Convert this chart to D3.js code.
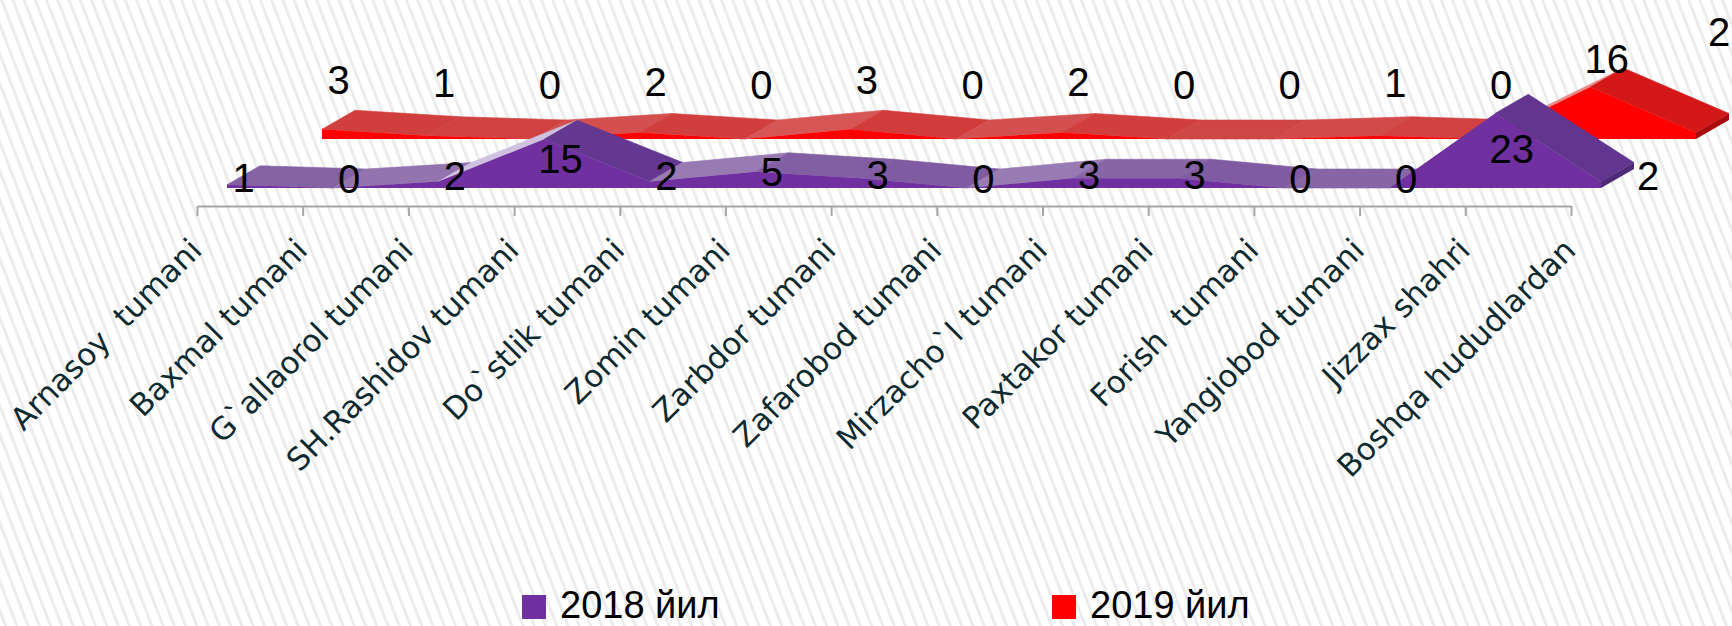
<!DOCTYPE html>
<html>
<head>
<meta charset="utf-8">
<script src="https://cdn.jsdelivr.net/npm/d3@7"></script>
<style>
  html, body { margin: 0; padding: 0; background: #fff; }
  svg { display: block; }
</style>
</head>
<body>
<svg id="chart"></svg>
<script>
const categories = [
  "Arnasoy  tumani", "Baxmal tumani", "G`allaorol tumani", "SH.Rashidov tumani",
  "Do`stlik tumani", "Zomin tumani", "Zarbdor tumani", "Zafarobod tumani",
  "Mirzacho`l tumani", "Paxtakor tumani", "Forish  tumani", "Yangiobod tumani",
  "Jizzax shahri", "Boshqa hududlardan"
];
const values2018 = [1, 0, 2, 15, 2, 5, 3, 0, 3, 3, 0, 0, 23, 2];
const values2019 = [3, 1, 0, 2, 0, 3, 0, 2, 0, 0, 1, 0, 16, 2];
const seriesNames = ["2018 йил", "2019 йил"];

const width = 1732, height = 626;
const axisY = 206;
const depth = { dx: 33, dy: -19 };   // thickness of each ribbon

const svg = d3.select("#chart")
  .attr("width", width)
  .attr("height", height);

// striped background
const defs = svg.append("defs");
const pat = defs.append("pattern")
  .attr("id", "stripes")
  .attr("patternUnits", "userSpaceOnUse")
  .attr("width", 10.5)
  .attr("height", 20)
  .attr("patternTransform", "rotate(-21)");
pat.append("rect").attr("width", 10.5).attr("height", 20).attr("fill", "#fff");
pat.append("rect").attr("width", 3).attr("height", 20).attr("fill", "#ececec");

svg.append("rect")
  .attr("width", width)
  .attr("height", height)
  .attr("fill", "url(#stripes)");

const x = d3.scalePoint()
  .domain(categories)
  .range([197, 1571]);

const y = d3.scaleLinear()
  .domain([0, 23])
  .range([axisY, axisY - 74.75]);

// x axis (front plane)
const xAxis = d3.axisBottom(x).tickSize(10).tickSizeOuter(0);
const axisG = svg.append("g")
  .attr("transform", `translate(0, ${axisY})`)
  .call(xAxis);
axisG.select(".domain").attr("stroke", "#a6a6a6").attr("stroke-width", 2);
axisG.selectAll(".tick line").attr("stroke", "#a6a6a6").attr("stroke-width", 2);
axisG.selectAll(".tick text")
  .attr("x", 6)
  .attr("y", 46)
  .attr("dy", 0)
  .attr("transform", "rotate(-45, 6, 46)")
  .attr("text-anchor", "end")
  .attr("fill", "#0e2a31")
  .style("font-family", "DejaVu Sans, Verdana, sans-serif")
  .style("font-size", "31px")
  .style("white-space", "pre");

function shade(flat, dark, light, t) {
  if (t < 0) return d3.interpolateRgb(flat, dark)(Math.min(1, -t / 0.42));
  return d3.interpolateRgb(flat, light)(Math.min(1, t / 0.4));
}

function drawRibbon(values, off, col) {
  const g = svg.append("g");
  const pts = values.map((v, i) => ({
    x: x(categories[i]) + off.dx,
    yb: y(0) + off.dy,
    yt: y(v) + off.dy
  }));

  // top faces, one per segment
  for (let i = 0; i < pts.length - 1; i++) {
    const a = pts[i], b = pts[i + 1];
    const cross = (b.x - a.x) * depth.dy - (b.yt - a.yt) * depth.dx;
    if (cross >= 0) continue; // facing away
    const t = (a.yt - b.yt) / (b.x - a.x);
    const c = shade(col.flat, col.dark, col.light, t);
    g.append("path")
      .attr("d", `M${a.x},${a.yt}L${b.x},${b.yt}L${b.x + depth.dx},${b.yt + depth.dy}L${a.x + depth.dx},${a.yt + depth.dy}Z`)
      .attr("fill", c)
      .attr("stroke", c)
      .attr("stroke-width", 0.6);
  }

  // right end cap
  const e = pts[pts.length - 1];
  g.append("path")
    .attr("d", `M${e.x},${e.yt}L${e.x},${e.yb}L${e.x + depth.dx},${e.yb + depth.dy}L${e.x + depth.dx},${e.yt + depth.dy}Z`)
    .attr("fill", col.cap);

  // front face
  const area = d3.area()
    .x(d => d.x)
    .y0(d => d.yb)
    .y1(d => d.yt);
  g.append("path")
    .attr("d", area(pts))
    .attr("fill", col.front);

  return pts;
}

function drawLabels(values, pts, place) {
  const last = values.length - 1;
  const lx = i => i === last ? pts[i].x + depth.dx + 14 : pts[i].x + depth.dx / 2;
  svg.append("g")
    .selectAll("text")
    .data(values)
    .join("text")
    .attr("x", (d, i) => Math.min(lx(i), width - 13))
    // a label pushed in from the right edge is lifted above the ribbon
    .attr("y", (d, i) => place(pts[i]) - (lx(i) > width - 13 ? 50 : 0))
    .attr("dy", "0.36em")
    .attr("text-anchor", "middle")
    .attr("fill", "#000")
    .style("font-family", "Liberation Sans, Arial, sans-serif")
    .style("font-size", "40px")
    .text(d => d);
}

// back series first (2019), then front series (2018)
const pts2019 = drawRibbon(values2019, { dx: 125, dy: -67 }, {
  front: "#ff0000", flat: "#d04545", dark: "#d41717", light: "#e88a8a", cap: "#a90c0c"
});
const pts2018 = drawRibbon(values2018, { dx: 30, dy: -18 }, {
  front: "#7030a0", flat: "#8866a6", dark: "#62358f", light: "#cfc2e0", cap: "#4f2a78"
});

drawLabels(values2019, pts2019, p => p.yb + depth.dy / 2 - (p.yb - p.yt) * 0.5 - 45);
drawLabels(values2018, pts2018, p => p.yb + depth.dy / 2 - (p.yb - p.yt) * 0.4);

// legend
const legendColors = ["#7030a0", "#ff0000"];
const legend = svg.append("g")
  .selectAll("g")
  .data(seriesNames)
  .join("g")
  .attr("transform", (d, i) => `translate(${522 + i * 530}, 595)`);
legend.append("rect")
  .attr("width", 24)
  .attr("height", 24)
  .attr("fill", (d, i) => legendColors[i]);
legend.append("text")
  .attr("x", 38)
  .attr("y", 23)
  .attr("fill", "#000")
  .style("font-family", "Liberation Sans, Arial, sans-serif")
  .style("font-size", "38px")
  .text(d => d);
</script>
</body>
</html>
